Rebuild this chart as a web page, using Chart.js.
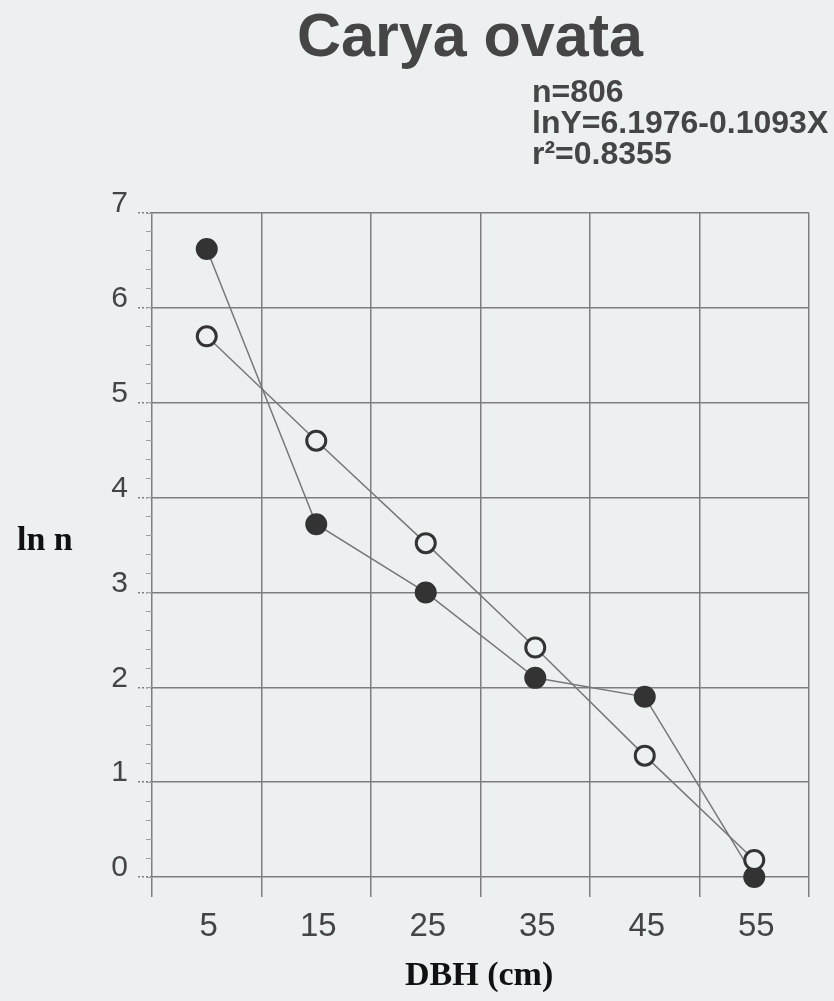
<!DOCTYPE html>
<html>
<head>
<meta charset="utf-8">
<script src="https://cdn.jsdelivr.net/npm/chart.js@4.4.1/dist/chart.umd.min.js"></script>
<style>
  body { margin: 0; background: #edf0f1; }
  #wrap { position: relative; width: 834px; height: 1001px; background: #edf0f1; }
  #wrap div { position: absolute; white-space: nowrap; }
  .sans { font-family: "Liberation Sans", Arial, sans-serif; font-weight: bold; color: #454545; }
  .serif { font-family: "Liberation Serif", "Times New Roman", serif; font-weight: bold; color: #111; font-size: 34px; line-height: 34px; }
</style>
</head>
<body>
<div id="wrap">
  <canvas id="myChart" width="834" height="1001"></canvas>
  <div class="sans" style="left:297px; top:5px; font-size:61px; line-height:60px;">Carya ovata</div>
  <div class="sans" style="left:532px; top:76px; font-size:32px; line-height:31px;">n=806<br>lnY=6.1976-0.1093X<br>r²=0.8355</div>
  <div class="serif" style="left:17px; top:522px;">ln n</div>
  <div class="serif" style="left:405px; top:957px;">DBH (cm)</div>
</div>
<script>
// DBH class midpoints (cm)
let dbh = [5, 15, 25, 35, 45, 55];
// observed ln n (filled circles)
let observado = [6.62, 3.72, 3.0, 2.1, 1.9, 0.0];
// predicted ln n (open circles)
let predicho = [5.7, 4.6, 3.52, 2.42, 1.28, 0.18];
// axis ticks
let xGrid = [0, 10, 20, 30, 40, 50, 60];
let yTicks = [0, 1, 2, 3, 4, 5, 6, 7];

let fondo = '#edf0f1';
let gris = '#7e7e7e';

function puntos(vals) {
  let p = [];
  for (let i = 0; i < dbh.length; i++) {
    p.push({x: dbh[i], y: vals[i]});
  }
  return p;
}

let menores = [];
for (let i = 0; i <= 35; i++) {
  menores.push(Math.round(i * 0.2 * 10) / 10);
}

let xTodos = xGrid.concat(dbh).sort(function(a, b) { return a - b; });

let ctx = document.getElementById('myChart').getContext('2d');
let chart = new Chart(ctx, {
  type: 'line',
  data: {
    datasets: [{
      label: 'predicho',
      data: puntos(predicho),
      borderColor: '#777',
      borderWidth: 1.5,
      pointRadius: 9.5,
      pointBorderWidth: 3,
      pointBorderColor: '#333',
      pointBackgroundColor: fondo,
      order: 0
    }, {
      label: 'observado',
      data: puntos(observado),
      borderColor: '#777',
      borderWidth: 1.5,
      pointRadius: 10,
      pointBorderWidth: 2,
      pointBorderColor: '#333',
      pointBackgroundColor: '#333',
      order: 1
    }]
  },
  options: {
    responsive: false,
    animation: false,
    devicePixelRatio: 1,
    layout: {
      padding: { left: 0, right: 25, top: 213, bottom: 0 }
    },
    plugins: {
      legend: { display: false },
      tooltip: { enabled: false }
    },
    scales: {
      x: {
        type: 'linear',
        min: 0,
        max: 60,
        afterBuildTicks: function(scale) {
          scale.ticks = xTodos.map(function(v) { return {value: v}; });
        },
        afterFit: function(scale) { scale.height = 104; },
        border: { display: false },
        grid: {
          drawTicks: false,
          lineWidth: 1.5,
          color: function(c) {
            return xGrid.includes(c.tick.value) ? gris : 'rgba(0,0,0,0)';
          }
        },
        ticks: {
          padding: 10,
          labelOffset: 2,
          color: '#444',
          font: { family: 'Liberation Sans', size: 33 },
          autoSkip: false,
          maxRotation: 0,
          callback: function(v) { return dbh.includes(v) ? String(v) : ''; }
        }
      },
      y: {
        min: -0.21,
        max: 7,
        weight: 1,
        afterBuildTicks: function(scale) {
          scale.ticks = yTicks.map(function(v) { return {value: v}; });
        },
        afterFit: function(scale) { scale.width = 152; },
        border: { display: false },
        grid: {
          lineWidth: 1.5,
          color: gris,
          borderDash: [2, 2],
          tickLength: 14,
          tickBorderDash: [2, 2]
        },
        ticks: {
          padding: 10,
          labelOffset: -9,
          color: '#444',
          font: { family: 'Liberation Sans', size: 30 }
        }
      },
      y2: {
        position: 'left',
        min: -0.21,
        max: 7,
        weight: 0,
        afterBuildTicks: function(scale) {
          scale.ticks = menores.map(function(v) { return {value: v}; });
        },
        afterFit: function(scale) { scale.width = 0; },
        border: { display: false },
        grid: {
          drawOnChartArea: false,
          tickLength: 6,
          tickColor: '#a0a0a0',
          tickWidth: 1
        },
        ticks: { display: false }
      }
    }
  }
});
</script>
</body>
</html>
